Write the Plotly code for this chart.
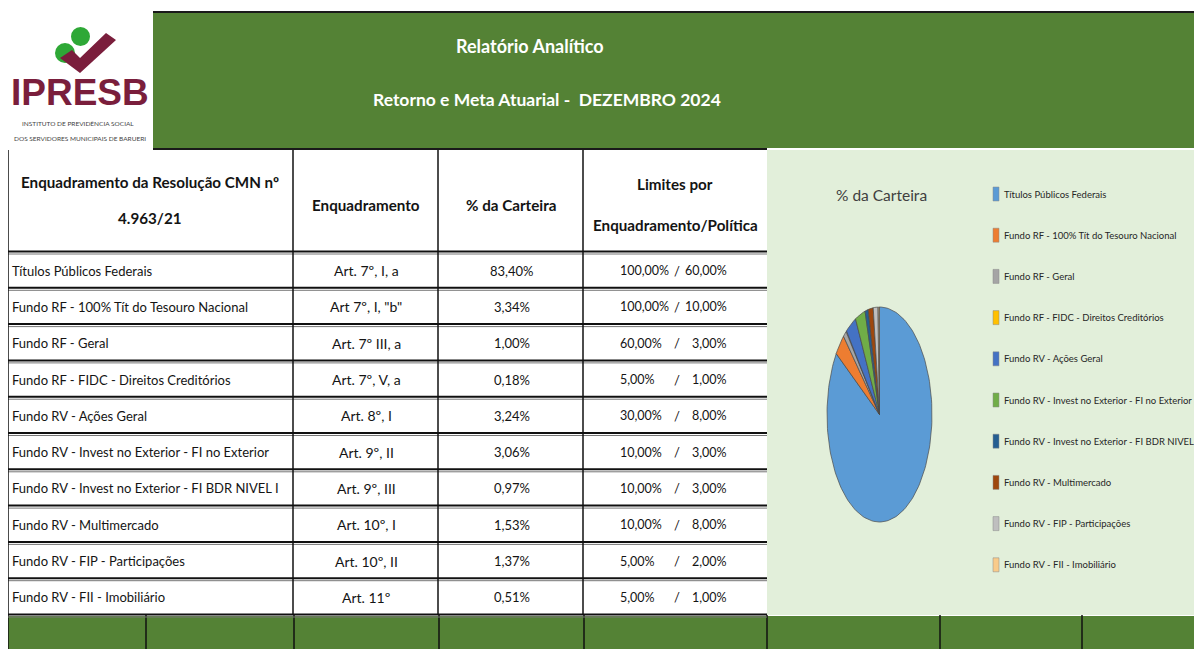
import math
import plotly.graph_objects as go

# ---------------- data ----------------
categorias = [
    "Títulos Públicos Federais",
    "Fundo RF - 100% Tít do Tesouro Nacional",
    "Fundo RF - Geral",
    "Fundo RF - FIDC - Direitos Creditórios",
    "Fundo RV - Ações Geral",
    "Fundo RV - Invest no Exterior - FI no Exterior",
    "Fundo RV - Invest no Exterior - FI BDR NIVEL I",
    "Fundo RV - Multimercado",
    "Fundo RV - FIP - Participações",
    "Fundo RV - FII - Imobiliário",
]
enquadramento = [
    "Art. 7º, I, a", 'Art 7º, I, "b"', "Art. 7º III, a", "Art. 7º, V, a", "Art. 8º, I",
    "Art. 9º, II", "Art. 9º, III", "Art. 10º, I", "Art. 10º, II", "Art. 11º",
]
carteira = [83.40, 3.34, 1.00, 0.18, 3.24, 3.06, 0.97, 1.53, 1.37, 0.51]
limite_max = [100.00, 100.00, 60.00, 5.00, 30.00, 10.00, 10.00, 10.00, 5.00, 5.00]
limite_politica = [60.00, 10.00, 3.00, 1.00, 8.00, 3.00, 3.00, 8.00, 2.00, 1.00]
cores = ["#5B9BD5", "#ED7D31", "#A5A5A5", "#FFC000", "#4472C4", "#70AD47",
         "#255E91", "#9E480E", "#BFBFBF", "#F9CB8A"]

titulo1 = "Relatório Analítico"
titulo2 = "Retorno e Meta Atuarial -  DEZEMBRO 2024"
cab_col1 = ["Enquadramento da Resolução CMN nº", "4.963/21"]
cab_col2 = "Enquadramento"
cab_col3 = "% da Carteira"
cab_col4 = ["Limites por", "Enquadramento/Política"]
titulo_pizza = "% da Carteira"

# ---------------- layout constants ----------------
W, H = 1202, 649
OFF = 8  # page body margin offset compensation
GREEN = "#548235"
PIE_BG = "#E2EFDA"
FONT = "Lato, 'Open Sans', sans-serif"
TXT = "#141414"

def pct(v):
    return f"{v:.2f}".replace(".", ",") + "%"

fig = go.Figure()
shapes = []
ann = []

def rect(x0, y0, x1, y1, fill, line=None, lw=0, layer="below"):
    shapes.append(dict(type="rect", x0=x0, y0=y0, x1=x1, y1=y1, xref="x", yref="y",
                       fillcolor=fill, line=dict(color=line or fill, width=lw), layer=layer))

def hline(x0, x1, y, color="black", w=1.0, layer="below"):
    shapes.append(dict(type="line", x0=x0, x1=x1, y0=y, y1=y, xref="x", yref="y",
                       line=dict(color=color, width=w), layer=layer))

def vline(x, y0, y1, color="black", w=1.0, layer="below"):
    shapes.append(dict(type="line", x0=x, x1=x, y0=y0, y1=y1, xref="x", yref="y",
                       line=dict(color=color, width=w), layer=layer))

def text(x, y, s, size, color=TXT, bold=False, anchor="center", family=FONT):
    ann.append(dict(x=x, y=y, xref="x", yref="y", text=(f"<b>{s}</b>" if bold else s),
                    showarrow=False, xanchor=anchor, yanchor="middle",
                    font=dict(family=family, size=size, color=color)))

# header band
rect(153, 12, W + OFF, 148, GREEN)
hline(153, W + OFF, 12, "#1a1a1a", 2)
hline(153, 767, 149, "#1a1a1a", 2)
text(530, 46, titulo1, 18, "white", True)
text(547, 99, titulo2, 17.5, "white", True)

# logo
shapes.append(dict(type="circle", x0=55, y0=43, x1=75, y1=63, xref="x", yref="y",
                   fillcolor="#2EA836", line=dict(width=0), layer="below"))
shapes.append(dict(type="path", path="M 60,58 L 72,50 L 80,58 L 106,33 L 116,40 L 80,73 Z",
                   xref="x", yref="y", fillcolor="#7A1E3C", line=dict(width=0), layer="below"))
shapes.append(dict(type="circle", x0=71, y0=27, x1=90, y1=46, xref="x", yref="y",
                   fillcolor="#2EA836", line=dict(width=0), layer="below"))
text(80, 92, "IPRESB", 37, "#7A1E3C", True, family="Liberation Sans, Arial, sans-serif")
text(78, 123, "INSTITUTO DE PREVIDÊNCIA SOCIAL", 6.5, "#444444")
text(80, 138, "DOS SERVIDORES MUNICIPAIS DE BARUERI", 6.5, "#444444")

# pie area background
rect(767, 150, W + OFF, 615, PIE_BG)

# table
col_x = [8, 293, 438, 583, 767]
top_rows, row_h = 252, 36.3
n = len(categorias)
bottom = top_rows + n * row_h
rect(8, 150, 767, bottom, "white")

# bottom green band
rect(8, bottom + 1, W + OFF, H + OFF, GREEN)
for xb in [8, 146, 294, 439, 584, 767, 940, 1082]:
    vline(xb, bottom, H + OFF, "#111111", 1.5)

for i in range(n + 1):
    yb = top_rows + i * row_h
    hline(8, 767, yb - 0.5, "#111111", 2)
    hline(8, 767, yb + 2, "#777777", 1)
for xc in col_x[:4]:
    vline(xc, 150, bottom, "#111111", 1.5)

# header text
HS = 15.2
text(150, 182, cab_col1[0], HS, TXT, True)
text(150, 218, cab_col1[1], HS, TXT, True)
text(366, 205, cab_col2, HS, TXT, True)
text(511, 205, cab_col3, HS, TXT, True)
text(675, 184, cab_col4[0], HS, TXT, True)
text(675, 225, cab_col4[1], HS, TXT, True)

for i in range(n):
    yc = top_rows + i * row_h + row_h / 2 + 0.5
    text(10, yc, categorias[i], 13, TXT, anchor="left")
    text(366, yc, enquadramento[i], 14, TXT)
    text(512, yc, pct(carteira[i]), 13, TXT)
    text(618, yc, pct(limite_max[i]), 12.5, TXT, anchor="left")
    text(677, yc, "/", 13, TXT)
    text(729, yc, pct(limite_politica[i]), 12.5, TXT, anchor="right")

# pie (elliptical, clockwise from 12 o'clock), slices from carteira
cx, cy, rx, ry = 879.5, 414.5, 52.5, 107.5
total = sum(carteira)
cum = 0.0
for i, v in enumerate(carteira):
    a0 = 90 - 360 * cum / total
    cum += v
    a1 = 90 - 360 * cum / total
    steps = max(3, int(abs(a1 - a0) / 2))
    xs, ys = [cx], [cy]
    for k in range(steps + 1):
        t = math.radians(a0 + (a1 - a0) * k / steps)
        xs.append(cx + rx * math.cos(t))
        ys.append(cy - ry * math.sin(t))
    xs.append(cx); ys.append(cy)
    fig.add_trace(go.Scatter(x=xs, y=ys, mode="lines", fill="toself", fillcolor=cores[i],
                             line=dict(color="#4a4a4a", width=0.7), name=categorias[i],
                             hoverinfo="text", text=f"{categorias[i]}: {pct(v)}",
                             showlegend=False))

text(881, 195, titulo_pizza, 15.5, "#404040")

# custom legend
for i, c in enumerate(categorias):
    yc = 194 + i * 41.2
    rect(993, yc - 7, 999, yc + 7, cores[i], "#8a8a8a", 0.5, layer="above")
    text(1002, yc, c, 9.5, "#262626", anchor="left")

fig.update_layout(
    width=W, height=H, margin=dict(l=0, r=0, t=0, b=0),
    paper_bgcolor="white", plot_bgcolor="white",
    xaxis=dict(range=[OFF, W + OFF], visible=False, fixedrange=True),
    yaxis=dict(range=[H + OFF, OFF], visible=False, fixedrange=True),
    shapes=shapes, annotations=ann, showlegend=False,
)
fig.write_html("out.html")
